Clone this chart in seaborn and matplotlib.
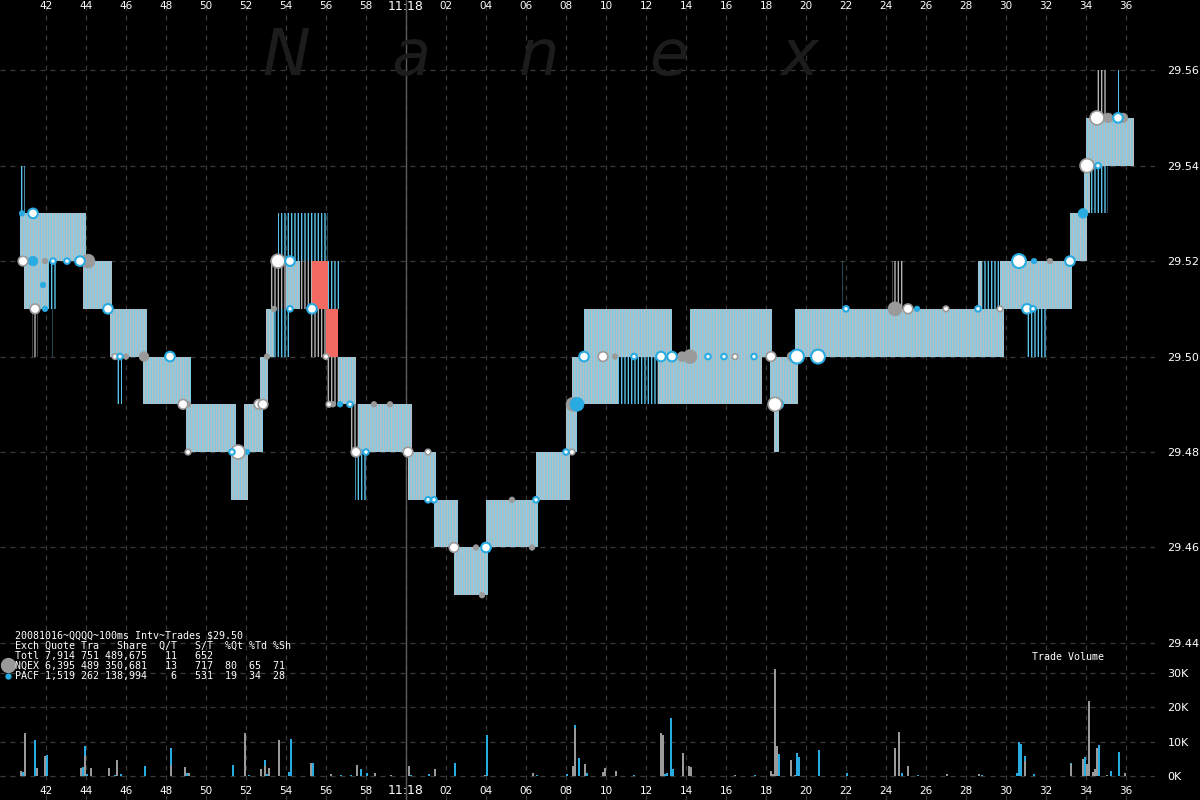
import pandas as pd
import matplotlib
matplotlib.use('Agg')
import matplotlib.pyplot as plt
import seaborn as sns

# times are seconds after 11:17:00
# NBBO spread boxes: start, end, bid, ask
box_t0 = [40.7, 40.9, 43.85, 45.2, 46.85, 49.0, 51.25, 51.9, 52.7, 53.0, 54.0, 56.6, 57.6, 60.1,
          61.4, 62.4, 64.0, 66.5, 68.0, 68.3, 72.6, 68.9, 74.2, 78.2, 78.4, 79.45, 88.6, 89.7,
          93.2, 93.9, 94.0]
box_t1 = [44.0, 42.1, 45.3, 47.05, 49.25, 51.5, 52.1, 52.85, 53.1, 53.4, 54.7, 57.5, 60.3, 61.5,
          62.6, 64.1, 66.6, 68.2, 68.55, 70.6, 77.8, 73.3, 78.3, 79.6, 78.65, 89.9, 88.8, 93.3,
          94.05, 94.2, 96.4]
box_lo = [29.52, 29.51, 29.51, 29.50, 29.49, 29.48, 29.47, 29.48, 29.49, 29.50, 29.51, 29.49, 29.48,
          29.47, 29.46, 29.45, 29.46, 29.47, 29.48, 29.49, 29.49, 29.50, 29.50, 29.49, 29.48, 29.50,
          29.51, 29.51, 29.52, 29.53, 29.54]
box_hi = [29.53, 29.52, 29.52, 29.51, 29.50, 29.49, 29.48, 29.49, 29.50, 29.51, 29.52, 29.50, 29.49,
          29.48, 29.47, 29.46, 29.47, 29.48, 29.49, 29.50, 29.50, 29.51, 29.51, 29.50, 29.49, 29.51,
          29.52, 29.52, 29.53, 29.54, 29.55]

# crossed market
red_t0 = [55.3, 56.0]
red_t1 = [56.1, 56.6]
red_lo = [29.51, 29.50]
red_hi = [29.52, 29.51]

# quote flicker (thin vertical lines)
flk_t0 = [40.7, 41.3, 42.1, 42.3, 45.5, 51.2, 53.1, 53.2, 53.6, 54.7, 56.1, 55.2, 56.0, 57.2,
          57.45, 70.6, 81.8, 84.3, 88.8, 91.05, 94.2, 94.5, 95.6]
flk_t1 = [40.95, 41.6, 42.5, 42.4, 45.8, 51.45, 54.2, 54.0, 56.1, 55.3, 56.7, 56.0, 56.6, 57.6,
          58.0, 72.6, 81.9, 84.85, 89.7, 92.0, 95.1, 95.05, 95.7]
flk_lo = [29.53, 29.50, 29.51, 29.50, 29.49, 29.48, 29.50, 29.51, 29.52, 29.51, 29.51, 29.50, 29.49,
          29.48, 29.47, 29.49, 29.51, 29.51, 29.51, 29.50, 29.53, 29.55, 29.55]
flk_hi = [29.54, 29.51, 29.52, 29.51, 29.50, 29.49, 29.51, 29.52, 29.53, 29.52, 29.52, 29.51, 29.50,
          29.49, 29.48, 29.50, 29.52, 29.52, 29.52, 29.51, 29.54, 29.56, 29.56]
flk_ex = ['P', 'N', 'P', 'P', 'P', 'P', 'P', 'N', 'P', 'N', 'P', 'N', 'N', 'N',
          'P', 'P', 'P', 'N', 'P', 'P', 'P', 'N', 'P']

# trades
trade_t = [40.8, 41.35, 40.85, 41.35, 41.95, 42.35, 43.05, 43.7, 44.1, 41.85, 41.45, 41.95, 45.1,
           45.45, 45.7, 46.0, 46.9, 48.2, 48.85, 49.1, 49.1, 51.3, 51.6, 52.05, 52.65, 52.85,
           53.05, 53.4, 54.2, 53.6, 54.2, 55.3, 56.0, 56.15, 56.35, 56.7, 57.2, 58.4, 59.2,
           57.5, 57.7, 58.0, 60.1, 61.1, 61.1, 61.4, 62.4, 63.5, 64.0, 63.8, 65.3, 66.3, 66.5,
           68.0, 68.3, 68.35, 68.55, 68.9, 69.85, 70.45, 71.4, 72.75, 73.3, 73.8, 74.2, 75.1,
           75.9, 76.45, 77.4, 78.25, 79.3, 79.55, 80.6, 78.45, 78.65, 82.0, 84.45, 85.1, 85.55,
           87.0, 88.6, 89.7, 91.05, 91.35, 90.65, 91.4, 92.2, 93.2, 93.85, 94.05, 94.6, 94.55,
           95.1, 95.6, 95.85]
trade_px = [29.53, 29.53, 29.52, 29.52, 29.52, 29.52, 29.52, 29.52, 29.52, 29.515, 29.51, 29.51, 29.51,
            29.50, 29.50, 29.50, 29.50, 29.50, 29.49, 29.49, 29.48, 29.48, 29.48, 29.48, 29.49, 29.49,
            29.50, 29.51, 29.51, 29.52, 29.52, 29.51, 29.50, 29.49, 29.49, 29.49, 29.49, 29.49, 29.49,
            29.48, 29.48, 29.48, 29.48, 29.48, 29.47, 29.47, 29.46, 29.46, 29.46, 29.45, 29.47, 29.46, 29.47,
            29.48, 29.48, 29.49, 29.49, 29.50, 29.50, 29.50, 29.50, 29.50, 29.50, 29.50, 29.50, 29.50,
            29.50, 29.50, 29.50, 29.50, 29.50, 29.50, 29.50, 29.49, 29.49, 29.51, 29.51, 29.51, 29.51,
            29.51, 29.51, 29.51, 29.51, 29.51, 29.52, 29.52, 29.52, 29.52, 29.53, 29.54, 29.54, 29.55,
            29.55, 29.55, 29.55]
trade_kind = ['P', 'B', 'W', 'P', 'N', 'B', 'B', 'B', 'N', 'P', 'W', 'P', 'B',
              'W', 'B', 'N', 'N', 'B', 'W', 'N', 'W', 'B', 'W', 'P', 'W', 'W',
              'N', 'N', 'B', 'W', 'B', 'B', 'W', 'W', 'N', 'P', 'B', 'N', 'N',
              'W', 'P', 'B', 'W', 'W', 'B', 'B', 'W', 'N', 'B', 'N', 'N', 'N', 'B',
              'B', 'W', 'N', 'P', 'B', 'W', 'N', 'B', 'B', 'B', 'N', 'N', 'B',
              'B', 'W', 'B', 'W', 'N', 'B', 'B', 'W', 'P', 'B', 'N', 'W', 'P',
              'W', 'B', 'W', 'B', 'B', 'B', 'P', 'N', 'B', 'P', 'W', 'B', 'W',
              'N', 'B', 'N']
trade_size = ['s', 'm', 'm', 'm', 's', 's', 's', 'm', 'l', 's', 'm', 's', 'm',
              's', 's', 's', 'm', 'm', 'm', 's', 's', 's', 'l', 's', 'm', 'm',
              's', 's', 's', 'l', 'm', 'm', 's', 's', 's', 's', 's', 's', 's',
              'm', 's', 's', 'm', 's', 's', 's', 'm', 's', 'm', 's', 's', 's', 's',
              's', 's', 'l', 'l', 'm', 'm', 's', 's', 'm', 'm', 'm', 'l', 's',
              's', 's', 's', 'm', 'm', 'l', 'l', 'l', 'm', 's', 'l', 'm', 's',
              's', 's', 's', 'm', 's', 'l', 's', 's', 'm', 'm', 'l', 's', 'l',
              'm', 'm', 'm']

# trade volume per 100ms
nq_vol_t = [40.75, 40.95, 41.55, 41.95, 43.75, 43.95, 44.25, 45.15, 45.55, 48.25, 48.95, 49.15,
            51.95, 52.75, 52.95, 53.15, 53.65, 55.25, 56.25, 57.55, 58.45, 59.25, 60.15, 61.45,
            63.95, 66.35, 68.35, 68.45, 68.95, 69.85, 69.95, 70.5, 72.75, 72.85, 73.85, 74.15,
            74.25, 76.45, 78.25, 78.35, 78.45, 78.55, 79.25, 79.45, 84.45, 84.65, 85.1, 87.05,
            88.65, 90.95, 93.25, 93.85, 94.05, 94.15, 94.35, 94.45, 94.55, 95.05, 95.95]
nq_vol = [1600, 12600, 2200, 5800, 2300, 5800, 2200, 2200, 4600, 3200, 2500, 1000,
          12600, 1900, 3000, 2300, 10500, 3900, 500, 3300, 800, 200, 3000, 1900,
          400, 800, 2800, 14000, 3600, 1300, 2200, 1600, 12500, 11900, 6800, 2800,
          2500, 400, 1600, 500, 31300, 8800, 4800, 300, 8200, 12800, 2800, 500,
          500, 4500, 3500, 5000, 3600, 21900, 1300, 1900, 8200, 300, 800]
pa_vol_t = [40.85, 41.45, 42.05, 43.85, 43.95, 44.05, 45.45, 45.75, 46.95, 48.25, 49.05, 51.35,
            52.15, 52.95, 53.05, 54.15, 54.25, 55.35, 56.75, 57.25, 57.75, 58.05, 60.25, 61.15,
            62.45, 64.05, 66.55, 68.05, 68.45, 68.65, 69.05, 71.4, 72.95, 73.05, 73.25, 73.35,
            77.45, 78.65, 79.55, 79.65, 80.65, 82.05, 84.8, 85.6, 88.8, 90.55, 90.65, 90.75,
            90.95, 91.4, 93.25, 93.95, 94.65, 95.25, 95.65]
pa_vol = [1200, 10500, 6200, 2500, 8800, 500, 300, 500, 2800, 8200, 900, 3300,
          200, 4800, 500, 1200, 10800, 3900, 300, 300, 1900, 800, 400, 500,
          3900, 11900, 300, 500, 14800, 5300, 1000, 200, 500, 1000, 16800, 1900,
          200, 6500, 6800, 5600, 7600, 800, 800, 200, 300, 800, 9900, 9300,
          5900, 500, 3900, 5600, 9000, 1600, 7000]

x_ticks = list(range(42, 97, 2))
x_labels = ['11:18' if t == 60 else (str(t) if t < 60 else f'{t - 60:02d}') for t in x_ticks]
price_ticks = [29.44, 29.46, 29.48, 29.50, 29.52, 29.54, 29.56]
vol_ticks = [0, 10000, 20000, 30000]
vol_labels = ['0K', '10K', '20K', '30K']

legend_lines = ['20081016~QQQQ~100ms Intv~Trades $29.50',
                'Exch Quote Tra   Share  Q/T   S/T  %Qt %Td %Sh',
                'Totl 7,914 751 489,675   11   652',
                'NQEX 6,395 489 350,681   13   717  80  65  71',
                'PACF 1,519 262 138,994    6   531  19  34  28']

GRAY = '#9a9a9a'
BLUE = '#29abe2'
GRID = '#3a3a3a'

sns.set_theme(style='dark', rc={'axes.facecolor': 'black', 'figure.facecolor': 'black',
                                'savefig.facecolor': 'black'})
plt.rcParams['font.family'] = ['DejaVu Sans']
plt.rcParams['hatch.linewidth'] = 1.0

fig = plt.figure(figsize=(12, 8), dpi=100)
ax = fig.add_axes([0, 0, 1155 / 1200, 1])
ax_vol = ax.twinx()
ax_vol.patch.set_visible(False)

ax.set_xlim(39.7, 97.45)
ax.set_ylim(29.4071, 29.5747)
ax_vol.set_ylim(-6990, 226040)

# spread boxes: gray fill with blue stripes
ax.bar(box_t0, [h - l for h, l in zip(box_hi, box_lo)], bottom=box_lo,
       width=[b - a for a, b in zip(box_t0, box_t1)], align='edge',
       facecolor='#bdbdbd', edgecolor='#7ccbe8', hatch='||||||', linewidth=0, zorder=2)
ax.bar(red_t0, [h - l for h, l in zip(red_hi, red_lo)], bottom=red_lo,
       width=[b - a for a, b in zip(red_t0, red_t1)], align='edge',
       color='#f26a62', linewidth=0, zorder=2)
flk = pd.DataFrame({'t0': flk_t0, 't1': flk_t1, 'lo': flk_lo, 'hi': flk_hi, 'ex': flk_ex})
for ex, col in [('N', '#b4b4b4'), ('P', '#5cc4ec')]:
    d = flk[flk.ex == ex]
    ax.bar(d.t0, d.hi - d.lo, bottom=d.lo, width=d.t1 - d.t0, align='edge',
           facecolor='none', edgecolor=col, hatch='|||||', linewidth=0, zorder=1.5)

# trades
trades = pd.DataFrame({'t': trade_t, 'price': trade_px, 'kind': trade_kind, 'size': trade_size})
size_map = {'s': 16, 'm': 48, 'l': 100}
kind_style = {'N': (GRAY, GRAY, 0.5), 'P': (BLUE, BLUE, 0.5),
              'W': ('white', GRAY, 1.2), 'B': ('white', BLUE, 1.5)}
for kind, (fc, ec, lw) in kind_style.items():
    d = trades[trades.kind == kind]
    sns.scatterplot(x=d.t, y=d.price, s=d['size'].map(size_map), color=fc, edgecolor=ec,
                    linewidth=lw, ax=ax, legend=False, zorder=5)

# volume
ax_vol.bar(pa_vol_t, pa_vol, width=0.1, color=BLUE, linewidth=0, zorder=3)
ax_vol.bar(nq_vol_t, nq_vol, width=0.1, color=GRAY, linewidth=0, zorder=3)

# axes, ticks, grid
for a in (ax, ax_vol):
    for s in a.spines.values():
        s.set_visible(False)
    a.set_xlabel('')
    a.set_ylabel('')

ax.set_xticks(x_ticks)
ax.tick_params(axis='x', bottom=False, top=False, labelbottom=False, labeltop=False)
xform = ax.get_xaxis_transform()
for t, lab in zip(x_ticks, x_labels):
    fs = 9 if lab == '11:18' else 7.5
    ax.text(t, 1 - 6 / 800, lab, transform=xform, ha='center', va='center',
            fontsize=fs, color='white')
    ax.text(t, 1 - 791 / 800, lab, transform=xform, ha='center', va='center',
            fontsize=fs, color='white')

ax.yaxis.tick_right()
ax.set_yticks(price_ticks)
ax.set_yticklabels([f'{p:.2f}' for p in price_ticks])
ax.tick_params(axis='y', right=False, left=False, labelright=True, labelleft=False,
               pad=3, labelsize=8, labelcolor='white')
ax_vol.set_yticks(vol_ticks)
ax_vol.set_yticklabels(vol_labels)
ax_vol.tick_params(axis='y', right=False, left=False, labelright=True,
                   pad=3, labelsize=8, labelcolor='white')

ax.grid(True, color=GRID, linestyle=(0, (4, 4)), linewidth=0.9)
ax_vol.grid(True, axis='y', color=GRID, linestyle=(0, (4, 4)), linewidth=0.9)
ax_vol.grid(False, axis='x')
ax.set_axisbelow(True)
ax.axvline(60, color='#5a5a5a', linewidth=1, zorder=1)

# watermark
for ch, xc in zip('Nanex', [286, 411, 539, 669, 800]):
    fig.text(xc / 1200, 1 - 75 / 800, ch, color='#1c1c1c', fontsize=46, style='italic',
             ha='center', va='baseline', zorder=0)

# stats block
for i, line in enumerate(legend_lines):
    fig.text(15 / 1200, 1 - (636 + 10 * i) / 800, line, family='DejaVu Sans Mono',
             fontsize=7.2, color='white', va='center', ha='left')
fig.lines.append(plt.Line2D([8 / 1200], [1 - 665 / 800], marker='o', markersize=10,
                            color=GRAY, transform=fig.transFigure, figure=fig))
fig.lines.append(plt.Line2D([8 / 1200], [1 - 676 / 800], marker='o', markersize=3.5,
                            color=BLUE, transform=fig.transFigure, figure=fig))
fig.text(1032 / 1200, 1 - 657 / 800, 'Trade Volume', family='DejaVu Sans Mono',
         fontsize=7.2, color='white', va='center', ha='left')

fig.savefig('out.png', dpi=100, facecolor='black')
